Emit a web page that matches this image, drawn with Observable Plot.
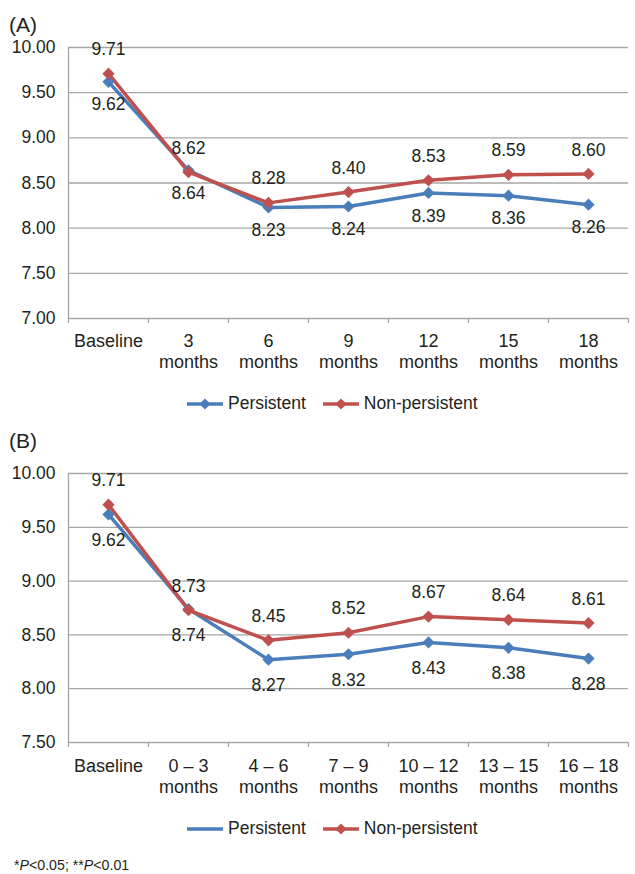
<!DOCTYPE html>
<html><head><meta charset="utf-8">
<script src="https://cdn.jsdelivr.net/npm/d3@7"></script>
<script src="https://cdn.jsdelivr.net/npm/@observablehq/plot@0.6"></script>
<style>
body{margin:0;background:#fff;font-family:"Liberation Sans",Arial,sans-serif;color:#231f20}
#wrap{position:relative;width:635px;height:874px;overflow:hidden}
.plabel{position:absolute;left:9px;font-size:21px;line-height:1}
.legend{position:absolute;left:186px;display:flex;align-items:center;font-size:17.5px;line-height:1;white-space:nowrap}
.legend .item{display:inline-flex;align-items:center;margin-right:16px}
.legend svg{margin-right:4px}
.chart{position:absolute;left:0}
.foot{position:absolute;left:14px;top:858px;font-size:14.2px;line-height:1}
</style></head><body><div id="wrap">
<div class="plabel" style="top:14px">(A)</div>
<div class="chart" id="chartA" style="top:30px"></div>
<div class="legend" id="legA" style="top:395px"></div>
<div class="plabel" style="top:430px">(B)</div>
<div class="chart" id="chartB" style="top:455px"></div>
<div class="legend" id="legB" style="top:820px"></div>
<div class="foot">*<i>P</i>&lt;0.05; **<i>P</i>&lt;0.01</div>
</div>
<script>
const series = ["Persistent", "Non-persistent"];
const colors = ["#4a7ebb", "#c0504d"];

const catsA = ["Baseline", "3\nmonths", "6\nmonths", "9\nmonths", "12\nmonths", "15\nmonths", "18\nmonths"];
const persistentA = [9.62, 8.64, 8.23, 8.24, 8.39, 8.36, 8.26];
const nonPersistentA = [9.71, 8.62, 8.28, 8.40, 8.53, 8.59, 8.60];
const yTicksA = [7.0, 7.5, 8.0, 8.5, 9.0, 9.5, 10.0];

const catsB = ["Baseline", "0 – 3\nmonths", "4 – 6\nmonths", "7 – 9\nmonths", "10 – 12\nmonths", "13 – 15\nmonths", "16 – 18\nmonths"];
const persistentB = [9.62, 8.74, 8.27, 8.32, 8.43, 8.38, 8.28];
const nonPersistentB = [9.71, 8.73, 8.45, 8.52, 8.67, 8.64, 8.61];
const yTicksB = [7.5, 8.0, 8.5, 9.0, 9.5, 10.0];

const FONT = "Liberation Sans, Arial, Helvetica, sans-serif";
const TXT = "#231f20";
const GRID = "#a6a6a6";

function chart(cats, p, np, yTicks, height, marginTop, plotH, belowDy, aboveDy, labelPad) {
  const data = [];
  cats.forEach((c, i) => {
    data.push({i, series: series[0], value: p[i]});
    data.push({i, series: series[1], value: np[i]});
  });
  return Plot.plot({
    width: 635, height, marginTop, marginLeft: 68, marginRight: 7,
    marginBottom: height - marginTop - plotH,
    style: {fontFamily: FONT, fontSize: "17.5px", color: TXT, background: "transparent", overflow: "visible"},
    x: {type: "linear", domain: [-0.5, cats.length - 0.5]},
    y: {domain: [yTicks[0], yTicks[yTicks.length - 1]]},
    color: {domain: series, range: colors},
    marks: [
      Plot.gridY(yTicks, {stroke: GRID, strokeOpacity: 1, strokeWidth: 1.3}),
      Plot.ruleX([-0.5], {stroke: GRID, strokeWidth: 1.3}),
      Plot.axisX(d3.range(-0.5, cats.length, 1), {tickSize: 5, tickFormat: () => "", stroke: GRID, strokeWidth: 1.3, label: null}),
      Plot.axisX(d3.range(cats.length), {tickSize: 0, tickPadding: labelPad, tickFormat: i => cats[i], lineHeight: 1.2, fontSize: 18, fill: TXT, label: null}),
      Plot.axisY(yTicks, {tickSize: 0, tickPadding: 13, tickFormat: d3.format(".2f"), fontSize: 17.5, fill: TXT, label: null}),
      Plot.line(data, {x: "i", y: "value", z: "series", stroke: "series", strokeWidth: 3.5}),
      Plot.dot(data, {x: "i", y: "value", fill: "series", symbol: "diamond2", r: 5.5}),
      Plot.text(data.filter(d => d.series === series[0]), {x: "i", y: "value", text: d => d.value.toFixed(2), dy: belowDy, fontSize: 17.5, fill: TXT}),
      Plot.text(data.filter(d => d.series === series[1]), {x: "i", y: "value", text: d => d.value.toFixed(2), dy: aboveDy, fontSize: 17.5, fill: TXT})
    ]
  });
}

document.getElementById("chartA").append(chart(catsA, persistentA, nonPersistentA, yTicksA, 345, 17, 271, 23, -24, 13));
document.getElementById("chartB").append(chart(catsB, persistentB, nonPersistentB, yTicksB, 344, 18, 269, 26, -24, 14));

function legend(el, markers) {
  series.forEach((s, k) => {
    const item = document.createElement("span");
    item.className = "item";
    const m = markers[k] ? `<path d="M19,1.5 L24.5,7 L19,12.5 L13.5,7Z" fill="${colors[k]}"/>` : "";
    item.innerHTML = `<svg width="38" height="14"><line x1="1" x2="37" y1="7" y2="7" stroke="${colors[k]}" stroke-width="3.5"/>${m}</svg>${s}`;
    el.append(item);
  });
}
legend(document.getElementById("legA"), [true, true]);
legend(document.getElementById("legB"), [false, true]);
</script>
</body></html>
